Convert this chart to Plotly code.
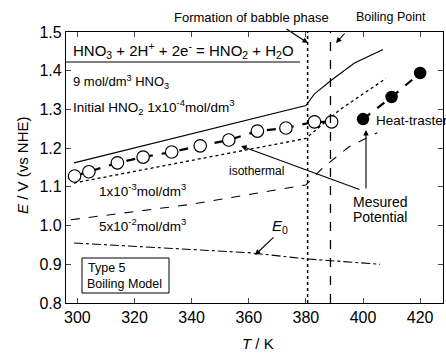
import plotly.graph_objects as go

# ---- data ----
T_iso = [299, 304, 314, 323, 333, 343, 353, 363, 373, 383, 389]
E_iso = [1.128, 1.139, 1.162, 1.177, 1.190, 1.206, 1.221, 1.244, 1.252, 1.268, 1.268]

T_heat = [400, 410, 420]
E_heat = [1.275, 1.332, 1.394]

T_hno2_4 = [298.8, 380, 383, 389, 397, 407]
E_hno2_4 = [1.162, 1.31, 1.34, 1.376, 1.42, 1.455]

T_hno2_3 = [298.8, 380, 392, 408]
E_hno2_3 = [1.11, 1.225, 1.30, 1.38]

T_hno2_2 = [297.7, 340, 380, 386, 395, 405]
E_hno2_2 = [1.015, 1.055, 1.105, 1.15, 1.203, 1.24]

T_e0 = [298.8, 360, 380, 406]
E_e0 = [0.955, 0.93, 0.914, 0.90]

T_bubble = 380.6
T_boil = 388.6

x_ticks = [300, 320, 340, 360, 380, 400, 420]
y_ticks = [0.8, 0.9, 1.0, 1.1, 1.2, 1.3, 1.4, 1.5]

# ---- layout geometry ----
W, H = 446, 355
L, R, T, B = 66, 3, 32, 52
PW, PH = W - L - R, H - T - B


def px(x):
    return (x - L) / PW


def py(y):
    return (H - B - y) / PH


FONT = "Liberation Sans, Arial, sans-serif"
fig = go.Figure()

fig.add_trace(go.Scatter(x=T_hno2_4, y=E_hno2_4, mode="lines",
                         line=dict(color="black", width=1.1), showlegend=False))
fig.add_trace(go.Scatter(x=T_hno2_3, y=E_hno2_3, mode="lines",
                         line=dict(color="black", width=1.3, dash="dot"), showlegend=False))
fig.add_trace(go.Scatter(x=T_hno2_2, y=E_hno2_2, mode="lines",
                         line=dict(color="black", width=1.1, dash="dash"), showlegend=False))
fig.add_trace(go.Scatter(x=T_e0, y=E_e0, mode="lines",
                         line=dict(color="black", width=1.1, dash="dashdot"), showlegend=False))
fig.add_trace(go.Scatter(x=T_iso, y=E_iso, mode="lines+markers",
                         line=dict(color="black", width=2.2, dash="dash"),
                         marker=dict(size=12.5, color="white", line=dict(color="black", width=1.2)),
                         showlegend=False))
fig.add_trace(go.Scatter(x=T_heat, y=E_heat, mode="lines+markers",
                         line=dict(color="black", width=2.2, dash="dash"),
                         marker=dict(size=12.5, color="black"),
                         showlegend=False))

shapes = [
    dict(type="line", xref="x", yref="paper", x0=T_bubble, x1=T_bubble, y0=0, y1=1,
         line=dict(color="black", width=1.5, dash="dot")),
    dict(type="line", xref="x", yref="paper", x0=T_boil, x1=T_boil, y0=0, y1=1,
         line=dict(color="black", width=1.3, dash="dash")),
    dict(type="line", xref="paper", yref="paper", x0=0, x1=px(300), y0=py(62), y1=py(62),
         line=dict(color="black", width=1)),
    dict(type="rect", xref="paper", yref="paper", x0=px(82), x1=px(169), y0=py(293), y1=py(258),
         line=dict(color="black", width=1)),
]

ann = []


def text(x, y, s, size=12, xanchor="left", angle=0):
    ann.append(dict(x=px(x), y=py(y), xref="paper", yref="paper", text=s, showarrow=False,
                    xanchor=xanchor, yanchor="middle", textangle=angle,
                    font=dict(family=FONT, size=size, color="black")))


def arrow(tx, ty, fx, fy):
    ann.append(dict(x=px(tx), y=py(ty), xref="paper", yref="paper", text="", showarrow=True,
                    ax=fx - tx, ay=fy - ty, arrowhead=2, arrowsize=1, arrowwidth=1.1,
                    arrowcolor="black"))


text(251, 17, "Formation of babble phase", 13, "center")
text(391, 17, "Boiling Point", 12.5, "center")
text(71, 50, "HNO<sub>3</sub> + 2H<sup>+</sup> + 2e<sup>-</sup> = HNO<sub>2</sub> + H<sub>2</sub>O", 15)
text(71, 82, "9 mol/dm<sup>3</sup> HNO<sub>3</sub>", 13)
text(71, 107, "Initial HNO<sub>2</sub> 1x10<sup>-4</sup>mol/dm<sup>3</sup>", 13.5)
text(97, 190, "1x10<sup>-3</sup>mol/dm<sup>3</sup>", 13.5)
text(97, 225, "5x10<sup>-2</sup>mol/dm<sup>3</sup>", 13.5)
text(256, 171, "isothermal", 12, "center")
text(380, 202, "Mesured", 14, "center")
text(380, 217, "Potential", 14, "center")
text(374, 120, "Heat-traster", 13.5)
text(280, 226, "<i>E</i><sub>0</sub>", 15, "center")
text(86, 268, "Type 5", 12.5)
text(85, 284, "Boiling Model", 12.5)
text(258, 343, "<i>T</i> / K", 15, "center")
text(22, 165, "<i>E</i> / V (vs NHE)", 15, "center", angle=-90)

arrow(308, 43, 285, 28)
arrow(336, 43, 346, 32)
arrow(241, 146, 361, 190)
arrow(366, 130, 366, 190)
arrow(255, 255, 275, 236)

fig.update_layout(
    width=W, height=H, margin=dict(l=L, r=R, t=T, b=B),
    paper_bgcolor="white", plot_bgcolor="white",
    shapes=shapes, annotations=ann,
    font=dict(family=FONT, color="black"),
    xaxis=dict(range=[296, 428], tickvals=x_ticks, ticks="inside", ticklen=5,
               showline=True, linecolor="black", linewidth=1.2, mirror="ticks",
               showgrid=False, zeroline=False, tickfont=dict(size=16, family=FONT)),
    yaxis=dict(range=[0.8, 1.5], tickvals=y_ticks, tickformat=".1f", ticks="inside", ticklen=5,
               showline=True, linecolor="black", linewidth=1.2, mirror="ticks",
               showgrid=False, zeroline=False, tickfont=dict(size=16, family=FONT)),
)

fig.write_html("out.html")
